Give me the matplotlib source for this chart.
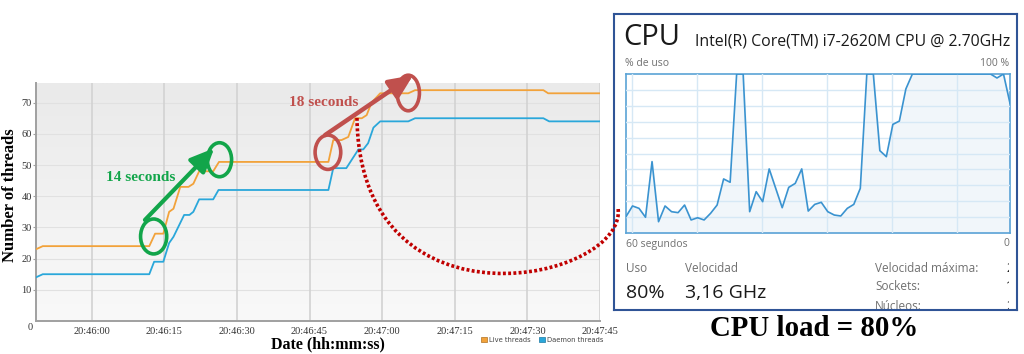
import matplotlib
matplotlib.use("Agg")
import matplotlib.pyplot as plt
import numpy as np
from matplotlib.patches import Ellipse, Patch, PathPatch
from matplotlib.path import Path
from matplotlib.colors import LinearSegmentedColormap

# ---------------- data: threads chart (seconds after 20:46:00) ----------------
live_t = [-11.5, -10.1, 11.9, 13.1, 14.8, 16.0, 16.9, 18.3, 20.0, 21.0, 22.2, 25.1, 26.3,
          48.9, 49.9, 51.6, 53.0, 54.4, 55.8, 56.8, 57.8, 59.6, 65.4, 66.8, 93.3, 94.3, 105]
live_v = [23, 24, 24, 28, 28, 35, 36, 43, 43, 44, 48, 48, 51,
          51, 58, 58, 59, 65, 65, 66, 70, 73, 73, 74, 74, 73, 73]
daemon_t = [-11.5, -10.1, 11.9, 12.9, 14.8, 16.0, 16.9, 19.1, 20.2, 21.0, 22.2, 25.1, 26.2,
            48.9, 49.9, 52.6, 55.1, 56.1, 57.1, 58.2, 59.6, 65.4, 66.8, 93.3, 94.5, 105]
daemon_v = [14, 15, 15, 19, 19, 25, 27, 34, 34, 35, 39, 39, 42,
            42, 49, 49, 55, 55, 57, 62, 64, 64, 65, 65, 64, 64]
series_names = ["Live threads", "Daemon threads"]
x_ticks = [0, 15, 30, 45, 60, 75, 90, 105]
x_tick_labels = ["20:46:00", "20:46:15", "20:46:30", "20:46:45",
                 "20:47:00", "20:47:15", "20:47:30", "20:47:45"]
y_ticks = [10, 20, 30, 40, 50, 60, 70]

# ---------------- data: CPU usage (last 60 s) ----------------
cpu_usage = [10.3, 17, 15.5, 9.9, 44.9, 7.1, 17, 13.4, 12.8, 17.6,
             8.2, 9.6, 8.2, 12.4, 17.6, 34, 31.9, 100, 100, 13.4,
             26, 19.7, 40.3, 28.1, 15.9, 28.7, 31.2, 40.3, 13.8, 18,
             19.3, 13.4, 11.3, 10.7, 15.5, 18, 28.1, 100, 100, 51.8,
             48, 68.3, 70.4, 90.6, 100, 100, 100, 100, 100, 100,
             100, 100, 100, 100, 100, 100, 100, 97.5, 100, 81.5]

SERIF = "Liberation Serif"
SANS = "Open Sans"
W, H = 1024, 354
fig = plt.figure(figsize=(W / 100, H / 100), dpi=100)


def fx(px):
    return px / W


def fy(py):
    return 1 - py / H


# ================= left chart =================
ax = fig.add_axes([fx(36), fy(321), fx(600) - fx(36), fy(83) - fy(321)])
ax.set_zorder(5)
ax.patch.set_visible(False)
xmin, xmax, ymax = -11.5, 105, 76.3
grad = np.linspace(1, 0, 200).reshape(-1, 1)
cmap = LinearSegmentedColormap.from_list("bg", ["#f9f9f9", "#eaeaea"])
ax.imshow(grad, extent=[xmin, xmax, 0, ymax], aspect="auto", cmap=cmap, zorder=0,
          vmin=0, vmax=1, origin="upper")
ax.set_xlim(xmin, xmax)
ax.set_ylim(0, ymax)

for yt in y_ticks:
    ax.axhline(yt, color="#e1e1e1", lw=0.8, zorder=1)
for xt in x_ticks:
    ax.axvline(xt, color="#d2d2d2", lw=1.2, zorder=1)

c_live, c_daemon = "#f2a23a", "#2aa7da"
ax.plot(live_t, live_v, color=c_live, lw=1.3, zorder=3)
ax.plot(daemon_t, daemon_v, color=c_daemon, lw=1.3, zorder=3)

for s in ["top", "right"]:
    ax.spines[s].set_visible(False)
for s in ["left", "bottom"]:
    ax.spines[s].set_color("#a0a0a0")
    ax.spines[s].set_linewidth(1.4)

ax.set_xticks(x_ticks)
ax.set_xticklabels(x_tick_labels, fontfamily=SERIF, fontsize=7.5, color="#333333")
ax.set_yticks(y_ticks)
ax.set_yticklabels([str(v) for v in y_ticks], fontfamily=SERIF, fontsize=7.5, color="#333333")
ax.tick_params(axis="x", length=0, pad=4.2)
ax.tick_params(axis="y", length=2.5, width=0.8, color="#a0a0a0", pad=0.6)
ax.annotate("0", xy=(0, 0), xycoords="axes fraction", xytext=(-2, -1.2),
            textcoords="offset points", ha="right", va="top",
            fontfamily=SERIF, fontsize=7.5, color="#333333", annotation_clip=False)

fig.text(fx(327.5), fy(344), "Date (hh:mm:ss)", ha="center", va="center",
         fontfamily=SERIF, fontweight="bold", fontsize=11.5)
fig.text(fx(10), fy(195.5), "Number of threads", ha="center", va="center", rotation=90,
         fontfamily=SERIF, fontweight="bold", fontsize=12)

handles = [Patch(facecolor=c_live, edgecolor="#b07020", lw=0.5),
           Patch(facecolor=c_daemon, edgecolor="#1a7aa5", lw=0.5)]
leg = ax.legend(handles, series_names, loc="upper right", bbox_to_anchor=(1.006, -0.066),
                ncol=2, frameon=False, handlelength=0.9, handleheight=0.9,
                handletextpad=0.3, columnspacing=1.2, borderpad=0, borderaxespad=0,
                prop={"family": "DejaVu Sans", "size": 4.9})
for t in leg.get_texts():
    t.set_color("#444444")

# annotations (data coordinates of the thread chart)
green, red, dark_red = "#12a54a", "#c0504d", "#c00000"
for (cx, cy, w, h) in [(12.8, 27.1, 5.4, 11.2), (26.4, 51.7, 5.0, 10.9)]:
    ax.add_patch(Ellipse((cx, cy), w, h, fill=False, ec=green, lw=2.6, zorder=6, clip_on=False))
for (cx, cy, w, h) in [(48.8, 54.1, 5.3, 11.0), (65.4, 73.1, 4.6, 11.4)]:
    ax.add_patch(Ellipse((cx, cy), w, h, fill=False, ec=red, lw=2.6, zorder=6, clip_on=False))
ax.annotate("", xy=(25.3, 55.4), xytext=(11.0, 32.4),
            arrowprops=dict(arrowstyle="-|>,head_length=0.8,head_width=0.36", color=green,
                            lw=3.0, mutation_scale=18, shrinkA=0, shrinkB=0),
            annotation_clip=False, zorder=6)
ax.annotate("", xy=(66.4, 78.8), xytext=(48.2, 59.6),
            arrowprops=dict(arrowstyle="-|>,head_length=0.8,head_width=0.36", color=red,
                            lw=3.2, mutation_scale=18, shrinkA=0, shrinkB=0),
            annotation_clip=False, zorder=6)
ax.text(10.2, 46, "14 seconds", color=green, ha="center", va="center",
        fontfamily=SERIF, fontweight="bold", fontsize=11, zorder=7)
ax.text(48.0, 69.9, "18 seconds", color=red, ha="center", va="center",
        fontfamily=SERIF, fontweight="bold", fontsize=11, zorder=7)

curve = Path([(54.8, 65.1), (55.4, -6.1), (111.2, 13.1), (108.7, 36.5)],
             [Path.MOVETO, Path.CURVE4, Path.CURVE4, Path.CURVE4])
ax.add_patch(PathPatch(curve, fill=False, ec=dark_red, lw=2.6, linestyle=(0, (0.8, 0.65)),
                       capstyle="butt", zorder=8, clip_on=False))

# ================= CPU panel =================
panel = fig.add_axes([fx(614), fy(310), fx(1017) - fx(614), fy(14) - fy(310)])
panel.set_zorder(1)
panel.set_xticks([])
panel.set_yticks([])
panel.set_xlim(614, 1017)
panel.set_ylim(310, 14)
for s in panel.spines.values():
    s.set_color("#2f5496")
    s.set_linewidth(1.5)

txt_dark, txt_gray = "#1a1a1a", "#707070"
panel.text(623, 45, "CPU", fontfamily=SANS, fontsize=21, color=txt_dark, va="baseline")
panel.text(695, 45, "Intel(R) Core(TM) i7-2620M CPU @ 2.70GHz", fontfamily=SANS,
           fontsize=11.4, color=txt_dark, va="baseline")
panel.text(625, 63.5, "% de uso", fontfamily=SANS, fontsize=7.5, color=txt_gray, va="center")
panel.text(1009, 63.5, "100 %", fontfamily=SANS, fontsize=7.5, color=txt_gray, va="center", ha="right")
panel.text(626, 244, "60 segundos", fontfamily=SANS, fontsize=7.5, color=txt_gray, va="center")
panel.text(1009, 244, "0", fontfamily=SANS, fontsize=7.5, color=txt_gray, va="center", ha="right")
panel.text(626, 268, "Uso", fontfamily=SANS, fontsize=8.5, color=txt_gray, va="center")
panel.text(685, 268, "Velocidad", fontfamily=SANS, fontsize=8.5, color=txt_gray, va="center")
panel.text(626, 293, "80%", fontfamily=SANS, fontsize=14, color=txt_dark, va="center")
panel.text(685, 293, "3,16 GHz", fontfamily=SANS, fontsize=14, color=txt_dark, va="center")

# cropped screenshot area: texts clipped to it
crop = fig.add_axes([fx(614), fy(309), fx(1009) - fx(614), fy(14) - fy(309)])
crop.set_zorder(3)
crop.set_axis_off()
crop.set_xlim(614, 1009)
crop.set_ylim(309, 14)
for label, yv, val in [("Velocidad máxima:", 268, "2"), ("Sockets:", 287, "1"),
                       ("Núcleos:", 307, "2")]:
    crop.text(875, yv, label, fontfamily=SANS, fontsize=8.5, color=txt_gray, va="center",
              clip_on=True)
    crop.text(1006, yv, val, fontfamily=SANS, fontsize=8.5, color=txt_dark, va="center",
              clip_on=True)

g = fig.add_axes([fx(626), fy(233), fx(1010) - fx(626), fy(74) - fy(233)])
g.set_zorder(2)
idx = np.arange(len(cpu_usage))
g.fill_between(idx, cpu_usage, 0, color="#f1f6fa", zorder=1)
g.plot(idx, cpu_usage, color="#3a93d0", lw=1.2, zorder=3)
g.set_xlim(0, len(cpu_usage) - 1)
g.set_ylim(0, 100)
g.set_xticks(np.arange(0.9, 59, 10))
g.set_yticks(np.arange(10, 100, 10))
g.grid(color="#d6e8f5", lw=1.0, zorder=2)
g.set_axisbelow(False)
g.tick_params(length=0, labelbottom=False, labelleft=False)
for s in g.spines.values():
    s.set_color("#5aa3d6")
    s.set_linewidth(1.2)

fig.text(fx(814), fy(328), "CPU load = 80%", ha="center", va="center",
         fontfamily=SERIF, fontweight="bold", fontsize=20.8)

fig.savefig("out.png", dpi=100)
